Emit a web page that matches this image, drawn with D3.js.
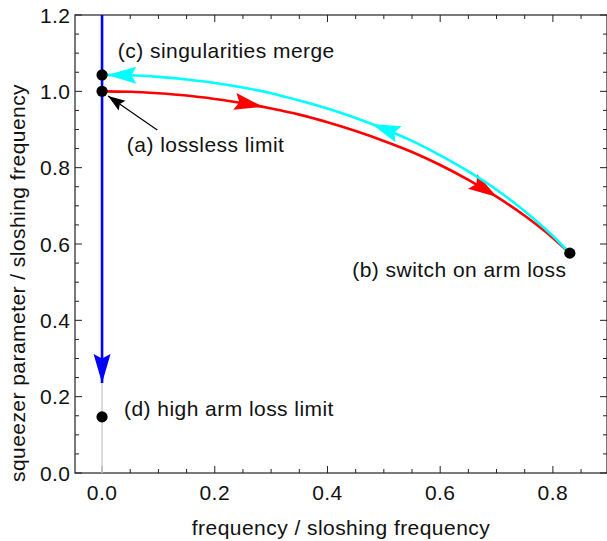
<!DOCTYPE html>
<html>
<head>
<meta charset="utf-8">
<script src="https://cdn.jsdelivr.net/npm/d3@7"></script>
<style>
  html, body { margin: 0; padding: 0; background: #fff; }
  svg text { font-family: "Liberation Sans", Arial, Helvetica, sans-serif; fill: #111; letter-spacing: 0.45px; }
</style>
</head>
<body>
<svg id="chart" width="607" height="541"></svg>
<script>
// Trajectory of the squeezer parameter in the (frequency, squeezer) plane,
// both normalised to the sloshing frequency.
const redX  = [0, 0.05, 0.1, 0.15, 0.2, 0.25, 0.3, 0.35, 0.4, 0.45, 0.5, 0.55, 0.6, 0.65, 0.7, 0.75, 0.8, 0.83];
const redY  = [1.000, 0.999, 0.995, 0.989, 0.980, 0.969, 0.955, 0.939, 0.919, 0.896, 0.870, 0.841, 0.807, 0.768, 0.724, 0.674, 0.616, 0.576];
const cyanX = [0.83, 0.8, 0.75, 0.7, 0.65, 0.6, 0.55, 0.5, 0.45, 0.4, 0.35, 0.3, 0.25, 0.2, 0.15, 0.1, 0.05, 0];
const cyanY = [0.576, 0.621, 0.686, 0.742, 0.790, 0.832, 0.870, 0.902, 0.930, 0.955, 0.976, 0.995, 1.010, 1.022, 1.031, 1.038, 1.042, 1.043];
const blueX = [0, 0];
const blueY = [1.2, 0.236];
const greyX = [0, 0];
const greyY = [0, 0.236];

// Marked states
const pointNames = ["a", "b", "c", "d"];
const pointX = [0, 0.83, 0, 0];
const pointY = [1.0, 0.576, 1.043, 0.147];

// Annotations
const labelText = ["(c) singularities merge", "(a) lossless limit", "(b) switch on arm loss", "(d) high arm loss limit"];
const labelX = [0.028, 0.044, 0.444, 0.039];
const labelY = [1.087, 0.841, 0.513, 0.149];
const pointerFrom = [0.098, 0.899];
const pointerTo = [0.0107, 0.988];

// Arrowheads placed along the curves (x position of each tip)
const redArrowTips = [0.286, 0.701];
const cyanArrowTips = [0.478, 0.009];

// Axis ticks
const xTicks = [0, 0.2, 0.4, 0.6, 0.8];
const xTickLabels = ["0.0", "0.2", "0.4", "0.6", "0.8"];
const yTicks = [0, 0.2, 0.4, 0.6, 0.8, 1.0, 1.2];
const yTickLabels = ["0.0", "0.2", "0.4", "0.6", "0.8", "1.0", "1.2"];
const xMinor = d3.range(0, 0.9, 0.05).map(v => +v.toFixed(2));
const yMinor = d3.range(0, 1.21, 0.05).map(v => +v.toFixed(2));

const svg = d3.select("#chart");
const mLeft = 75, mRight = 607, mTop = 15, mBottom = 473;
const x = d3.scaleLinear().domain([-0.048, 0.896]).range([mLeft, mRight]);
const y = d3.scaleLinear().domain([0, 1.2]).range([mBottom, mTop]);

const frameColor = "#222";
const fs = 21;

// Frame
svg.append("rect")
  .attr("x", mLeft).attr("y", mTop)
  .attr("width", mRight - mLeft).attr("height", mBottom - mTop)
  .attr("fill", "none").attr("stroke", frameColor).attr("stroke-width", 1.2);

// Ticks (inward on all four sides)
const tg = svg.append("g").attr("stroke", frameColor).attr("stroke-width", 1);
xMinor.forEach(v => {
  const major = xTicks.some(t => Math.abs(t - v) < 1e-6);
  const len = major ? 7 : 4;
  tg.append("line").attr("x1", x(v)).attr("x2", x(v)).attr("y1", mBottom).attr("y2", mBottom - len);
  tg.append("line").attr("x1", x(v)).attr("x2", x(v)).attr("y1", mTop).attr("y2", mTop + len);
});
yMinor.forEach(v => {
  const major = yTicks.some(t => Math.abs(t - v) < 1e-6);
  const len = major ? 7 : 4;
  tg.append("line").attr("y1", y(v)).attr("y2", y(v)).attr("x1", mLeft).attr("x2", mLeft + len);
  tg.append("line").attr("y1", y(v)).attr("y2", y(v)).attr("x1", mRight).attr("x2", mRight - len);
});

// Tick labels
xTicks.forEach((v, i) => {
  svg.append("text").attr("x", x(v)).attr("y", 500)
    .attr("text-anchor", "middle").attr("font-size", fs).text(xTickLabels[i]);
});
yTicks.forEach((v, i) => {
  svg.append("text").attr("x", 70.5).attr("y", y(v)).attr("dy", "0.36em")
    .attr("text-anchor", "end").attr("font-size", fs).text(yTickLabels[i]);
});

// Axis titles
svg.append("text").attr("x", (mLeft + mRight) / 2).attr("y", 535)
  .attr("text-anchor", "middle").attr("font-size", fs)
  .text("frequency / sloshing frequency");
svg.append("text")
  .attr("transform", "translate(25,283) rotate(-90)")
  .attr("text-anchor", "middle").attr("font-size", fs)
  .text("squeezer parameter / sloshing frequency");

const line = d3.line().x(d => x(d[0])).y(d => y(d[1])).curve(d3.curveMonotoneX);
const straight = d3.line().x(d => x(d[0])).y(d => y(d[1]));

function arrowHead(g, px, py, angle, color, L, W) {
  g.append("path")
    .attr("d", `M0,0 L${-L},${-W / 2} L${-0.84 * L},0 L${-L},${W / 2} Z`)
    .attr("transform", `translate(${px},${py}) rotate(${angle})`)
    .attr("fill", color).attr("stroke", "none");
}

// Place an arrowhead on a drawn path where it crosses a given x pixel
function arrowOnPath(g, pathNode, tipPx, color, L, W) {
  const total = pathNode.getTotalLength();
  let best = 0, bestD = Infinity;
  for (let s = 0; s <= total; s += 0.25) {
    const p = pathNode.getPointAtLength(s);
    const d = Math.abs(p.x - tipPx);
    if (d < bestD) { bestD = d; best = s; }
  }
  const p = pathNode.getPointAtLength(best);
  const q = pathNode.getPointAtLength(Math.max(0, best - 3));
  const ang = Math.atan2(p.y - q.y, p.x - q.x) * 180 / Math.PI;
  arrowHead(g, p.x, p.y, ang, color, L, W);
}

const curves = svg.append("g");

// Light guide line below the blue arrow
curves.append("path").datum(d3.zip(greyX, greyY)).attr("d", straight)
  .attr("fill", "none").attr("stroke", "#d0d0d0").attr("stroke-width", 1.5);

// Red: switching on arm loss
const redPath = curves.append("path").datum(d3.zip(redX, redY)).attr("d", line)
  .attr("fill", "none").attr("stroke", "#ff0000").attr("stroke-width", 2.6);
redArrowTips.forEach(t => arrowOnPath(curves, redPath.node(), x(t), "#ff0000", 29, 17));

// Cyan: back towards the merge point
const cyanPath = curves.append("path").datum(d3.zip(cyanX, cyanY)).attr("d", line)
  .attr("fill", "none").attr("stroke", "#00ffff").attr("stroke-width", 2.6);
cyanArrowTips.forEach(t => arrowOnPath(curves, cyanPath.node(), x(t), "#00ffff", 29, 17));

// Blue: descending along zero frequency
curves.append("path").datum(d3.zip(blueX, blueY)).attr("d", straight)
  .attr("fill", "none").attr("stroke", "#0000ff").attr("stroke-width", 2.6);
arrowHead(curves, x(blueX[1]), y(blueY[1]), 90, "#0000ff", 29, 17);

// Pointer from label (a)
const pf = [x(pointerFrom[0]), y(pointerFrom[1])];
const pt = [x(pointerTo[0]), y(pointerTo[1])];
curves.append("line").attr("x1", pf[0]).attr("y1", pf[1]).attr("x2", pt[0]).attr("y2", pt[1])
  .attr("stroke", "#000").attr("stroke-width", 1.2);
arrowHead(curves, pt[0], pt[1], Math.atan2(pt[1] - pf[1], pt[0] - pf[0]) * 180 / Math.PI, "#000", 17, 12);

// State points
svg.append("g").selectAll("circle").data(pointNames).join("circle")
  .attr("cx", (d, i) => x(pointX[i])).attr("cy", (d, i) => y(pointY[i]))
  .attr("r", 5.6).attr("fill", "#000");

// Labels
labelText.forEach((t, i) => {
  svg.append("text").attr("x", x(labelX[i])).attr("y", y(labelY[i]))
    .attr("font-size", fs).text(t);
});
</script>
</body>
</html>
